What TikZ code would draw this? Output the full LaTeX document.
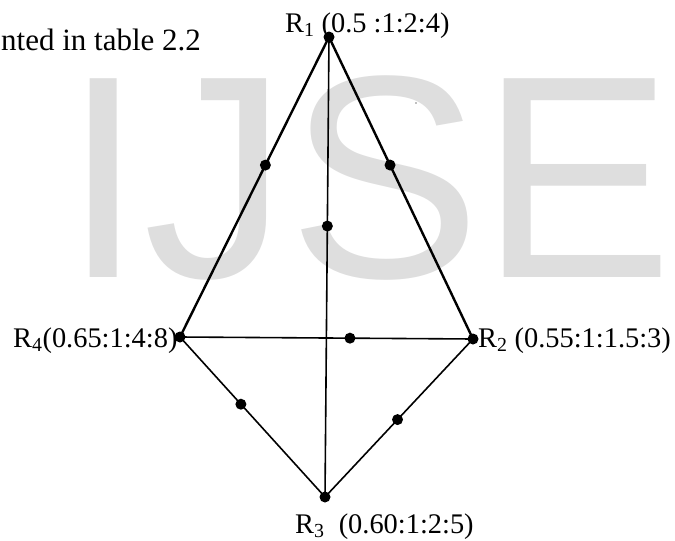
\documentclass[tikz,border=0pt]{standalone}
\usepackage{fontspec}
\setmainfont{Liberation Serif}
\newfontfamily\wmfont{Liberation Sans}
\definecolor{wmgray}{HTML}{DEDEDE}
\begin{document}
\begin{tikzpicture}[x=1pt,y=-1pt,
  thickedge/.style={line width=2.4pt, black, line cap=round},
  thinedge/.style={line width=1.6pt, black, line cap=round},
  vdot/.style={circle, fill=black, inner sep=0pt, minimum size=11pt},
  lbl/.style={inner sep=0pt, anchor=base west, font=\fontsize{28.4}{34}\selectfont}]
\useasboundingbox (0,0) rectangle (675,541);
% watermark
\node[anchor=base west, inner sep=0pt, text=wmgray, font=\wmfont\fontsize{289}{300}\selectfont] (wm) at (63,277) {IJSE};
\fill[gray] (416,103) circle (0.9pt);
% vertices
\coordinate (R1) at (329,37);
\coordinate (R2) at (473,339);
\coordinate (R3) at (325,497);
\coordinate (R4) at (180,337);
% edges
\draw[thickedge] (R1) -- (R4);
\draw[thickedge] (R1) -- (R2);
\draw[thinedge] (R1) -- (R3);
\draw[thinedge] (R4) -- (R2);
\draw[thinedge] (R4) -- (R3);
\draw[thinedge] (R2) -- (R3);
% points on edges
\path (R1) -- (R4) coordinate[pos=0.427] (m14);
\path (R1) -- (R2) coordinate[pos=0.424] (m12);
\path (R1) -- (R3) coordinate[pos=0.411] (m13);
\path (R4) -- (R2) coordinate[pos=0.58] (m42);
\path (R4) -- (R3) coordinate[pos=0.42] (m43);
\path (R2) -- (R3) coordinate[pos=0.51] (m23);
\foreach \p in {R1,R2,R3,R4,m14,m12,m13,m42,m43,m23}
  \node[vdot] at (\p) {};
% labels
\node[lbl, font=\fontsize{31}{36}\selectfont] (txt) at (1,50) {nted in table 2.2};
\node[lbl] (l1) at (285,32) {R\textsubscript{1} (0.5 :1:2:4)};
\node[lbl] (l4) at (13,347) {R\textsubscript{4}(0.65:1:4:8)};
\node[lbl] (l2) at (478,347) {R\textsubscript{2} (0.55:1:1.5:3)};
\node[lbl] (l3) at (295,533) {R\textsubscript{3}\ \ (0.60:1:2:5)};
\end{tikzpicture}
\end{document}
